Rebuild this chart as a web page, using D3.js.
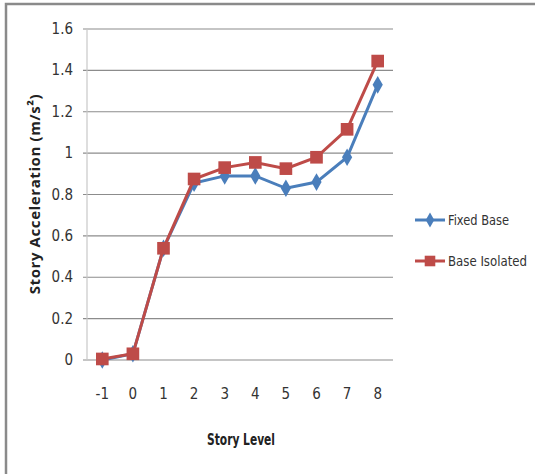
<!DOCTYPE html>
<html>
<head>
<meta charset="utf-8">
<script src="https://cdn.jsdelivr.net/npm/d3@7"></script>
<style>
  body { margin: 0; background: #fff; }
  svg { font-family: "DejaVu Sans Condensed", "Open Sans", sans-serif; }
</style>
</head>
<body>
<script>
// datos del grafico
let niveles = ["-1", "0", "1", "2", "3", "4", "5", "6", "7", "8"];
let fixedBase = [0, 0.03, 0.54, 0.855, 0.89, 0.89, 0.83, 0.86, 0.98, 1.33];
let baseIsolated = [0.005, 0.03, 0.54, 0.875, 0.93, 0.955, 0.925, 0.98, 1.115, 1.445];
let ticksY = [0, 0.2, 0.4, 0.6, 0.8, 1, 1.2, 1.4, 1.6];

let w = 535, h = 475;
let izq = 87, der = 393, arriba = 29, abajo = 360;

let svg = d3.select("body").append("svg")
    .attr("width", w)
    .attr("height", h);

// marco
svg.append("path")
    .attr("d", "M6,474 V4 H535")
    .attr("fill", "none")
    .attr("stroke", "#8a8a8a")
    .attr("stroke-width", 2.5);

let x = d3.scaleBand().domain(niveles).range([izq, der]);
let y = d3.scaleLinear().domain([0, 1.6]).range([abajo, arriba]);

// lineas de la grilla
svg.selectAll(".grid")
    .data(ticksY)
    .enter().append("line")
    .attr("x1", izq - 4)
    .attr("x2", der)
    .attr("y1", d => y(d))
    .attr("y2", d => y(d))
    .attr("stroke", "#8c8c8c")
    .attr("stroke-width", 1.2);

svg.append("line")
    .attr("x1", izq).attr("x2", izq)
    .attr("y1", arriba).attr("y2", abajo)
    .attr("stroke", "#c8c8c8")
    .attr("stroke-width", 1.2);

// etiquetas eje y
svg.selectAll(".ty")
    .data(ticksY)
    .enter().append("text")
    .attr("x", 73)
    .attr("y", d => y(d) + 5)
    .attr("text-anchor", "end")
    .attr("font-size", 15)
    .attr("fill", "#333")
    .text(d => d);

// etiquetas eje x
svg.selectAll(".tx")
    .data(niveles)
    .enter().append("text")
    .attr("x", d => x(d) + x.bandwidth() / 2)
    .attr("y", 399)
    .attr("text-anchor", "middle")
    .attr("font-size", 15)
    .attr("fill", "#333")
    .text(d => d);

svg.append("text")
    .attr("x", 241)
    .attr("y", 445)
    .attr("text-anchor", "middle")
    .attr("font-size", 15)
    .attr("font-weight", "bold")
    .attr("fill", "#222")
    .attr("textLength", 68)
    .attr("lengthAdjust", "spacingAndGlyphs")
    .text("Story Level");

svg.append("text")
    .attr("transform", "translate(40,194) rotate(-90)")
    .attr("text-anchor", "middle")
    .attr("font-size", 15)
    .attr("font-weight", "bold")
    .attr("font-family", "'Open Sans', sans-serif")
    .attr("letter-spacing", 0.6)
    .attr("fill", "#222")
    .text("Story  Acceleration (m/s²)");

let linea = d3.line()
    .x((d, i) => x(niveles[i]) + x.bandwidth() / 2)
    .y(d => y(d));

let series = [
    { nombre: "Fixed Base", valores: fixedBase, color: "#4A7EBB", marca: d3.symbolDiamond, tam: 90, ancho: 61 },
    { nombre: "Base Isolated", valores: baseIsolated, color: "#BE4B48", marca: d3.symbolSquare, tam: 160, ancho: 79 }
];

series.forEach((s, k) => {
    svg.append("path")
        .attr("d", linea(s.valores))
        .attr("fill", "none")
        .attr("stroke", s.color)
        .attr("stroke-width", 3);

    svg.selectAll(".m" + k)
        .data(s.valores)
        .enter().append("path")
        .attr("transform", (d, i) => `translate(${x(niveles[i]) + x.bandwidth() / 2},${y(d)})`)
        .attr("d", d3.symbol().type(s.marca).size(s.tam))
        .attr("fill", s.color);

    // leyenda
    let ly = 220 + k * 41;
    svg.append("line")
        .attr("x1", 415).attr("x2", 445)
        .attr("y1", ly).attr("y2", ly)
        .attr("stroke", s.color)
        .attr("stroke-width", 3);
    svg.append("path")
        .attr("transform", `translate(430,${ly})`)
        .attr("d", d3.symbol().type(s.marca).size(s.tam * 0.7))
        .attr("fill", s.color);
    svg.append("text")
        .attr("x", 448)
        .attr("y", ly + 5)
        .attr("font-size", 14)
        .attr("fill", "#333")
        .attr("textLength", s.ancho)
        .attr("lengthAdjust", "spacingAndGlyphs")
        .text(s.nombre);
});
</script>
</body>
</html>
